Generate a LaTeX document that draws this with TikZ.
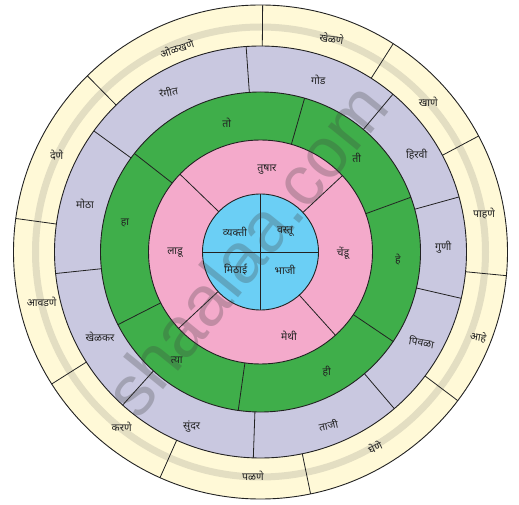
\documentclass[tikz,border=0pt]{standalone}
\usepackage{fontspec}
\newfontfamily\dev[Script=Devanagari]{Noto Sans}
\newfontfamily\wmfont{Liberation Sans}
\definecolor{cream}{HTML}{FFF9D7}
\definecolor{band}{HTML}{E3DEC2}
\definecolor{lav}{HTML}{C9C8E0}
\definecolor{grn}{HTML}{3FAE4A}
\definecolor{pnk}{HTML}{F4AACB}
\definecolor{blu}{HTML}{6BCFF5}
\definecolor{edge}{HTML}{222222}
\begin{document}
\begin{tikzpicture}[x=1pt,y=1pt,
  ring/.style={draw=edge,line width=0.9pt},
  divider/.style={draw=edge,line width=0.8pt},
  lbl/.style={font=\dev\fontsize{10.5}{12}\selectfont,text=edge,inner sep=0pt}]
\useasboundingbox (-260.5,-253) rectangle (258.5,252);
% rings
\fill[cream] (0,0) circle (247);
\draw[band,line width=7pt] (0,0) circle (225);
\draw[ring] (0,0) circle (247);
\filldraw[ring,fill=lav] (0,0) circle (206);
\filldraw[ring,fill=grn] (0,0) circle (160);
\filldraw[ring,fill=pnk] (0,0) circle (112);
\filldraw[ring,fill=blu] (0,0) circle (58);
% dividers
\foreach \a in {0,90,180,270} \draw[divider] (\a:0) -- (\a:58);
\foreach \a in {43,136,223,312} \draw[divider] (\a:58) -- (\a:112);
\foreach \a in {20,74,142,207,262,326} \draw[divider] (\a:112) -- (\a:160);
\foreach \a in {15.5,50,94,144,186,228,268,310.5,347} \draw[divider] (\a:160) -- (\a:206);
\foreach \a in {28,57.5,89.5,134.5,172.2,212.3,246,281.7,323,354.5} \draw[divider] (\a:206) -- (\a:247);
% watermark
\node[font=\wmfont\fontsize{71}{71}\selectfont,text=black!75,opacity=0.28,rotate=51] (wm) at (-15,3) {shaalaa.com};
% blue
\node[lbl] (b1) at (-25.5,20.3) {व्यक्ती};
\node[lbl] (b2) at (24.5,20.3) {वस्तू};
\node[lbl] (b3) at (-24.8,-18) {मिठाई};
\node[lbl] (b4) at (24.5,-18) {भाजी};
% pink
\node[lbl] (p1) at (6.5,82) {तुषार};
\node[lbl] (p2) at (82.5,-1) {चेंडू};
\node[lbl] (p3) at (28.5,-84) {मेथी};
\node[lbl] (p4) at (-85.5,-1) {लाडू};
% green
\node[lbl] (g1) at (-33.8,129) {तो};
\node[lbl] (g2) at (96.2,94) {ती};
\node[lbl] (g3) at (137.5,-8) {हे};
\node[lbl] (g4) at (66.2,-119.7) {ही};
\node[lbl] (g5) at (-83.8,-108) {त्या};
\node[lbl] (g6) at (-135.5,29) {हा};
% lavender
\node[lbl,rotate=10] (l1) at (-92.2,160.3) {रंगीत};
\node[lbl] (l2) at (57.8,172) {गोड};
\node[lbl] (l3) at (156.2,97) {हिरवी};
\node[lbl] (l4) at (182.8,4.7) {गुणी};
\node[lbl,rotate=-10] (l5) at (161.2,-89.7) {पिवळा};
\node[lbl,rotate=12] (l6) at (67.8,-173) {ताजी};
\node[lbl] (l7) at (-68.8,-174.7) {सुंदर};
\node[lbl] (l8) at (-160.5,-84.7) {खेळकर};
\node[lbl] (l9) at (-175.5,48.7) {मोठा};
% cream
\node[lbl,rotate=18] (c1) at (-83.8,203.7) {ओळखणे};
\node[lbl,rotate=-8] (c2) at (71.2,213.7) {खेळणे};
\node[lbl] (c3) at (167.8,150.3) {खाणे};
\node[lbl] (c4) at (223.5,38.7) {पाहणे};
\node[lbl,rotate=-10] (c5) at (217.8,-84.7) {आहे};
\node[lbl,rotate=25] (c6) at (114.5,-195.3) {घेणे};
\node[lbl] (c7) at (-7.5,-224) {पळणे};
\node[lbl] (c8) at (-138.8,-175.3) {करणे};
\node[lbl] (c9) at (-218.8,-49.7) {आवडणे};
\node[lbl] (c10) at (-203.8,97) {देणे};
\end{tikzpicture}
\end{document}
